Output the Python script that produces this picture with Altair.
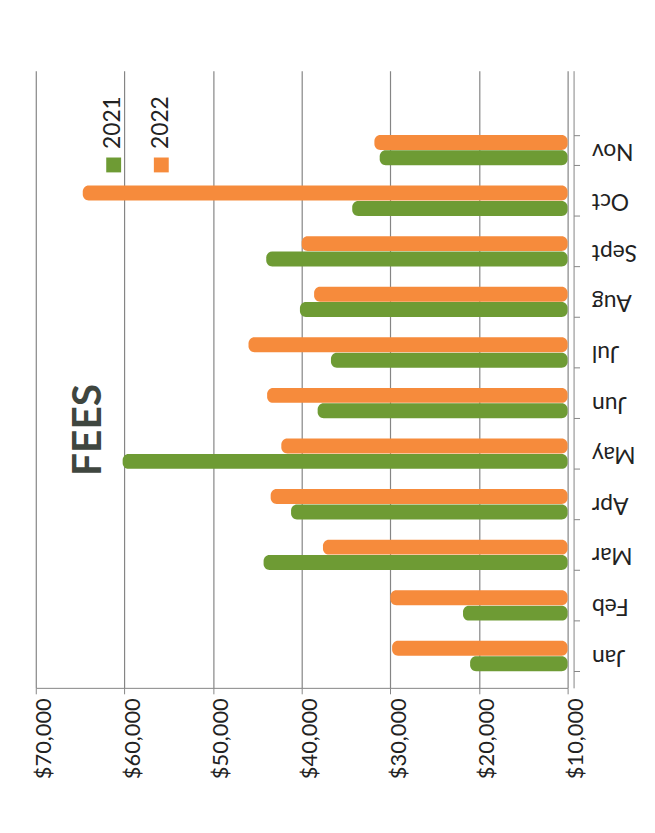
import altair as alt
import pandas as pd

months = ["Jan", "Feb", "Mar", "Apr", "May", "Jun", "Jul", "Aug", "Sept", "Oct", "Nov"]
fees_2021 = [21000, 21800, 44300, 41200, 60200, 38200, 36700, 40200, 44000, 34300, 31200]
fees_2022 = [29800, 30000, 37600, 43500, 42300, 43900, 46000, 38600, 40000, 64700, 31800]
years = ["2021", "2022"]
colors = ["#6E9B34", "#F68B3C"]
tick_values = [10000, 20000, 30000, 40000, 50000, 60000, 70000]
title_text = "FEES"

rows = []
for m, a, b in zip(months, fees_2021, fees_2022):
    rows.append({"month": m, "year": "2021", "fees": a})
    rows.append({"month": m, "year": "2022", "fees": b})
df = pd.DataFrame(rows)

FONT = "Lato"
GRID = "#858585"

bars = alt.Chart(df).mark_bar(cornerRadius=6).encode(
    y=alt.Y(
        "month:N",
        sort=list(reversed(months)),
        scale=alt.Scale(paddingInner=0.40, paddingOuter=0.8, align=0.794),
        axis=alt.Axis(
            orient="right", title=None, labelAngle=180, labelAlign="right",
            labelBaseline="middle", labelFont=FONT, labelFontSize=23,
            labelColor="#222222", labelPadding=12, tickSize=6, tickBand="extent",
            domainColor=GRID, tickColor=GRID, grid=False, offset=6,
        ),
    ),
    yOffset=alt.YOffset("year:N", sort=["2022", "2021"], scale=alt.Scale(paddingInner=0.03)),
    x=alt.X(
        "fees:Q",
        scale=alt.Scale(domain=[10000, 70000], reverse=True, zero=False),
        axis=alt.Axis(
            values=tick_values, format="$,.0f", labelAngle=270, labelAlign="right",
            labelBaseline="middle", labelFont=FONT, labelFontSize=22,
            labelColor="#222222", labelPadding=4, labelOffset=8, tickSize=6, title=None,
            grid=True, gridColor=GRID, gridWidth=1.2, domainColor=GRID, tickColor=GRID,
        ),
    ),
    x2=alt.datum(10000),
    color=alt.Color("year:N", scale=alt.Scale(domain=years, range=colors), legend=None),
)

layers = [bars]

# manual rotated legend
leg_x = [78, 126]
for yr, col, lx in zip(years, colors, leg_x):
    ldf = pd.DataFrame({"year": [yr]})
    layers.append(
        alt.Chart(ldf).mark_text(
            angle=270, align="left", baseline="middle", font=FONT, fontSize=23, color="#222222"
        ).encode(x=alt.value(lx), y=alt.value(79), text="year:N")
    )
    layers.append(
        alt.Chart(ldf).mark_square(size=225, color=col, opacity=1).encode(
            x=alt.value(lx + 0.5), y=alt.value(95)
        )
    )

title_df = pd.DataFrame({"t": [title_text]})
layers.append(
    alt.Chart(title_df).mark_text(
        angle=270, align="center", baseline="middle", font=FONT, fontSize=41,
        fontWeight="bold", color="#3F463F"
    ).encode(x=alt.value(54), y=alt.value(362), text="t:N")
)

chart = alt.layer(*layers).properties(
    width=536,
    height=622,
    padding={"left": 28, "top": 60, "right": 80, "bottom": 130},
    autosize=alt.AutoSizeParams(type="none"),
    background="white",
).configure_view(stroke=None)

chart.save("out.html", embed_options={"renderer": "svg", "actions": False})
